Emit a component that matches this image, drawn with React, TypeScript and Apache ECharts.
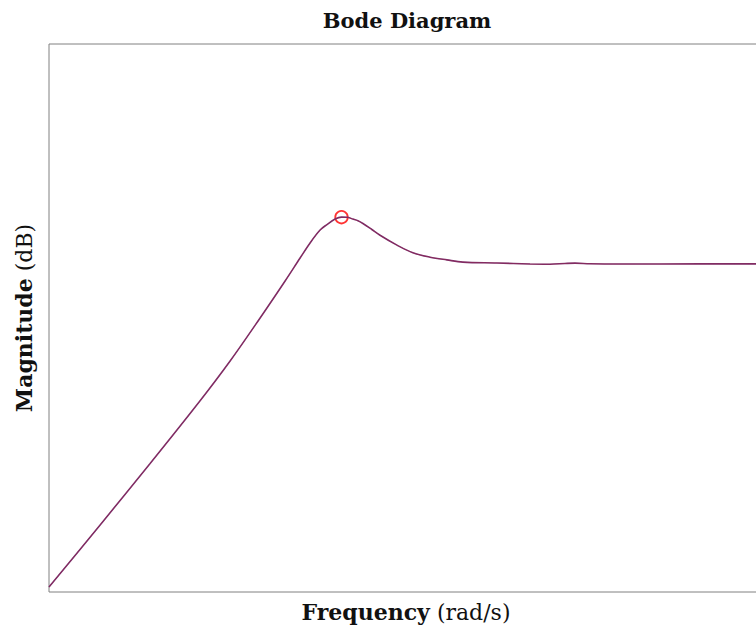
import React, { useEffect, useRef } from "react";
import * as echarts from "echarts";

// Frequency axis in decades (log10 of rad/s), magnitude in dB
const logFreq = [
  -1, -0.786, -0.576, -0.366, -0.239, -0.113, -0.008, 0.055, 0.097, 0.139, 0.168,
  0.202, 0.229, 0.252, 0.277, 0.298, 0.319, 0.355, 0.391, 0.462, 0.529, 0.601, 0.672,
  0.739, 0.882, 1.021, 1.105, 1.168, 1.21, 1.273, 1.399, 1.735, 2.0,
];
const magnitudeDb = [
  -79.1, -67.8, -56.6, -45.15, -37.85, -30.0, -23.25, -19.05, -16.3, -13.95, -12.95,
  -11.95, -11.6, -11.62, -11.95, -12.25, -12.75, -13.8, -14.9, -16.7, -18.1, -18.9,
  -19.4, -19.8, -19.96, -20.15, -20.18, -20.05, -19.99, -20.1, -20.15, -20.13, -20.12,
];
// Resonant peak
const peakLogFreq = 0.229;
const peakDb = -11.6;

const xRange = [-1, 2];
const yRange = [-80, 20];

const serif = "'DejaVu Serif', 'Liberation Serif', serif";

export default function App() {
  const ref = useRef<HTMLDivElement>(null);

  useEffect(() => {
    document.body.style.margin = "0";
    const chart = echarts.init(ref.current!, null, { renderer: "svg" });
    const curve = logFreq.map((x, i) => [x, magnitudeDb[i]]);
    const labelRich = {
      b: { fontFamily: serif, fontWeight: "bold", fontSize: 22, color: "#111" },
      n: { fontFamily: serif, fontSize: 22, color: "#111" },
    };
    chart.setOption({
      animation: false,
      backgroundColor: "#fff",
      title: {
        text: "Bode Diagram",
        left: 402,
        top: 5,
        textAlign: "center",
        textStyle: { fontFamily: serif, fontWeight: "bold", fontSize: 21, color: "#111" },
      },
      grid: {
        left: 49,
        top: 44,
        width: 714,
        height: 548,
        containLabel: false,
        outerBoundsMode: "none",
        show: true,
        borderColor: "#808080",
        borderWidth: 1,
      },
      xAxis: {
        type: "value",
        min: xRange[0],
        max: xRange[1],
        axisLine: { show: false },
        axisTick: { show: false },
        axisLabel: { show: false },
        splitLine: { show: false },
        name: "{b|Frequency}{n| (rad/s)}",
        nameLocation: "middle",
        nameGap: 9,
        nameTextStyle: { rich: labelRich },
      },
      yAxis: {
        type: "value",
        min: yRange[0],
        max: yRange[1],
        axisLine: { show: false },
        axisTick: { show: false },
        axisLabel: { show: false },
        splitLine: { show: false },
        name: "{b|Magnitude}{n| (dB)}",
        nameLocation: "middle",
        nameGap: 14,
        nameTextStyle: { rich: labelRich },
      },
      series: [
        {
          type: "line",
          data: curve,
          smooth: 0.35,
          showSymbol: false,
          lineStyle: { color: "#7b3370", width: 1.6 },
        },
        {
          type: "line",
          data: curve,
          smooth: 0.35,
          showSymbol: false,
          lineStyle: { color: "#A2142F", width: 1, opacity: 0.3 },
        },
        {
          type: "scatter",
          data: [[peakLogFreq, peakDb]],
          symbol: "circle",
          symbolSize: 12.5,
          itemStyle: { color: "rgba(0,0,0,0)", borderColor: "#ff0000", borderWidth: 1.8 },
        },
      ],
    });
    return () => chart.dispose();
  }, []);

  return <div ref={ref} style={{ width: 756, height: 627 }} />;
}
